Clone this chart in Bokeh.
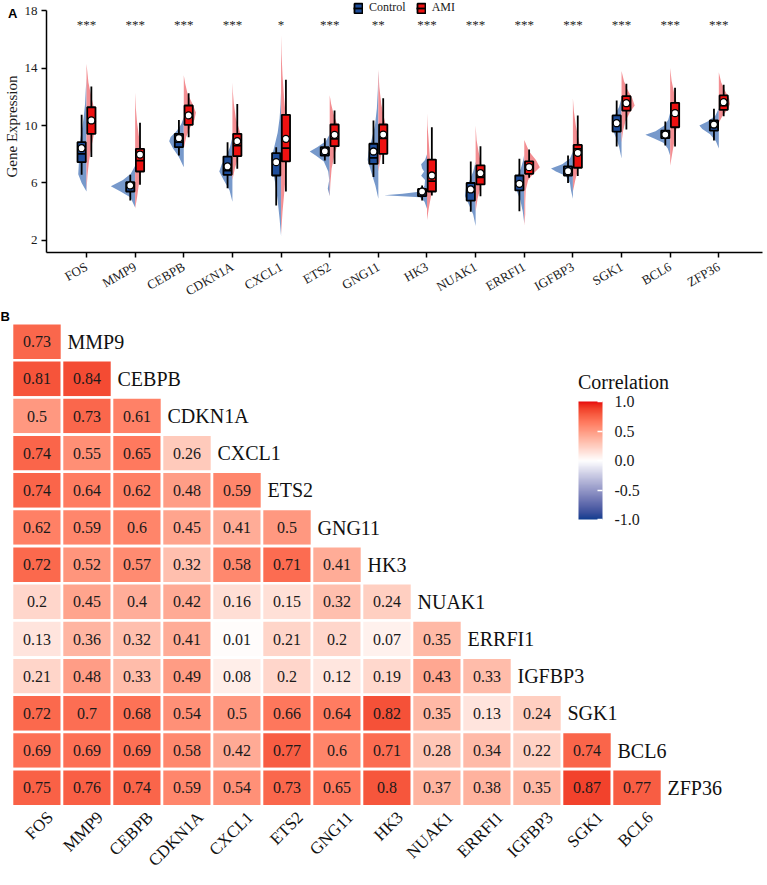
import math
import numpy as np
from bokeh.plotting import figure
from bokeh.models import (FixedTicker, Legend, LegendItem, Label, LinearColorMapper,
                          ColorBar, PrintfTickFormatter, Range1d, ColumnDataSource, Div)
from bokeh.embed import file_html
from bokeh.resources import INLINE
from bokeh.core.properties import value

SERIF = "Liberation Serif"
SANS = "Liberation Sans"

# ---------------- data: panel A ----------------
genes = ["FOS", "MMP9", "CEBPB", "CDKN1A", "CXCL1", "ETS2", "GNG11", "HK3",
         "NUAK1", "ERRFI1", "IGFBP3", "SGK1", "BCL6", "ZFP36"]
sig = ["***", "***", "***", "***", "*", "***", "**", "***", "***", "***", "***", "***", "***", "***"]

# half-violin outlines (expression value, half width in category units)
ctrl_vy = [
    [5.4, 6.0, 6.6, 7.2, 8.0, 8.8, 9.6, 10.5, 11.5, 12.5, 13.3],
    [4.3, 5.0, 5.4, 5.78, 6.2, 6.64, 7.2],
    [7.1, 7.8, 8.4, 8.9, 9.2, 9.6, 10.1, 10.6],
    [4.7, 5.5, 6.2, 6.8, 7.3, 7.9, 8.5, 9.2],
    [2.3, 3.5, 4.8, 6.0, 7.0, 7.7, 8.5, 9.5, 10.5, 11.5, 12.4],
    [5.1, 5.6, 6.2, 6.8, 7.5, 7.9, 8.2, 8.5, 8.9, 9.4],
    [4.9, 5.8, 6.8, 7.6, 8.2, 9.0, 10.0, 11.2, 12.5, 13.8],
    [4.2, 4.7, 5.0, 5.15, 5.25, 5.4, 5.8, 6.2, 6.5, 6.8, 7.0, 7.3, 7.6, 8.0],
    [3.0, 3.8, 4.5, 5.1, 5.6, 6.2, 6.8, 7.5],
    [3.2, 4.0, 4.8, 5.4, 5.9, 6.4, 7.0, 7.6, 8.0],
    [4.9, 5.5, 6.0, 6.5, 6.8, 7.0, 7.3, 7.7, 8.2],
    [7.7, 8.5, 9.2, 9.8, 10.2, 10.7, 11.3, 11.9],
    [7.9, 8.4, 8.8, 9.1, 9.35, 9.6, 10.0, 10.4, 10.9],
    [8.4, 8.9, 9.4, 9.75, 10.0, 10.3, 10.7, 11.2],
]
ctrl_vw = [
    [0, 0.10, 0.17, 0.16, 0.15, 0.14, 0.10, 0.06, 0.03, 0.015, 0],
    [0, 0.10, 0.30, 0.50, 0.25, 0.09, 0],
    [0, 0.10, 0.22, 0.30, 0.27, 0.15, 0.05, 0],
    [0, 0.06, 0.18, 0.27, 0.22, 0.12, 0.05, 0],
    [0, 0.03, 0.07, 0.12, 0.18, 0.20, 0.14, 0.07, 0.03, 0.01, 0],
    [0, 0.04, 0.01, 0.03, 0.12, 0.28, 0.41, 0.25, 0.08, 0],
    [0, 0.06, 0.15, 0.22, 0.20, 0.14, 0.07, 0.03, 0.01, 0],
    [0, 0.05, 0.15, 0.88, 0.50, 0.12, 0.05, 0.04, 0.12, 0.06, 0.10, 0.12, 0.04, 0],
    [0, 0.05, 0.14, 0.22, 0.20, 0.12, 0.05, 0],
    [0, 0.03, 0.08, 0.15, 0.19, 0.15, 0.07, 0.02, 0],
    [0, 0.04, 0.06, 0.15, 0.35, 0.45, 0.22, 0.06, 0],
    [0, 0.05, 0.12, 0.19, 0.20, 0.14, 0.05, 0],
    [0, 0.05, 0.14, 0.33, 0.51, 0.30, 0.12, 0.04, 0],
    [0, 0.06, 0.18, 0.34, 0.40, 0.22, 0.07, 0],
]
ami_vy = [
    [5.5, 6.5, 7.5, 8.5, 9.5, 10.3, 11.0, 12.0, 13.0, 14.3],
    [4.2, 5.0, 6.0, 7.0, 7.6, 8.3, 9.2, 10.2, 11.2, 12.3],
    [8.4, 9.2, 9.8, 10.4, 10.9, 11.5, 12.2, 12.9, 13.5],
    [6.2, 7.0, 7.8, 8.5, 9.0, 9.6, 10.5, 11.5, 12.3, 13.0],
    [2.4, 4.0, 5.5, 7.0, 8.3, 9.3, 10.5, 12.0, 13.5, 15.0, 16.3],
    [5.0, 6.0, 7.0, 8.0, 8.8, 9.4, 10.0, 10.8, 11.5, 12.1],
    [6.8, 7.8, 8.6, 9.3, 9.8, 10.5, 11.5, 12.7, 13.9],
    [3.4, 4.3, 5.2, 5.8, 6.5, 7.3, 8.2, 9.2, 10.0, 10.9],
    [4.0, 4.9, 5.7, 6.3, 6.8, 7.4, 8.2, 9.0, 10.0],
    [3.0, 3.8, 4.6, 5.5, 6.2, 6.7, 7.1, 7.6, 8.2, 9.0],
    [5.4, 6.2, 7.0, 7.7, 8.2, 9.0, 10.0, 11.0, 11.9],
    [8.8, 9.6, 10.3, 10.9, 11.4, 11.9, 12.5, 13.1, 13.8],
    [7.2, 8.0, 9.0, 10.0, 10.8, 11.5, 12.3, 13.1, 14.0],
    [10.2, 10.7, 11.1, 11.5, 11.9, 12.4, 13.0, 13.7],
]
ami_vw = [
    [0, 0.02, 0.05, 0.10, 0.16, 0.20, 0.17, 0.10, 0.04, 0],
    [0, 0.04, 0.08, 0.13, 0.15, 0.13, 0.08, 0.04, 0.015, 0],
    [0, 0.05, 0.12, 0.22, 0.25, 0.18, 0.08, 0.03, 0],
    [0, 0.05, 0.12, 0.18, 0.20, 0.15, 0.07, 0.03, 0.01, 0],
    [0, 0.03, 0.07, 0.11, 0.14, 0.13, 0.10, 0.06, 0.03, 0.01, 0],
    [0, 0.015, 0.04, 0.10, 0.17, 0.20, 0.16, 0.08, 0.03, 0],
    [0, 0.05, 0.11, 0.16, 0.17, 0.12, 0.06, 0.02, 0],
    [0, 0.04, 0.09, 0.10, 0.09, 0.07, 0.05, 0.03, 0.01, 0],
    [0, 0.04, 0.10, 0.14, 0.15, 0.11, 0.06, 0.02, 0],
    [0, 0.02, 0.02, 0.03, 0.08, 0.20, 0.32, 0.24, 0.10, 0],
    [0, 0.05, 0.11, 0.16, 0.17, 0.12, 0.06, 0.02, 0],
    [0, 0.03, 0.08, 0.17, 0.27, 0.22, 0.12, 0.05, 0],
    [0, 0.04, 0.09, 0.14, 0.17, 0.14, 0.08, 0.03, 0],
    [0, 0.08, 0.18, 0.23, 0.21, 0.13, 0.05, 0],
]

ctrl_lo   = [6.57, 4.78, 7.91, 5.64, 4.43, 7.57, 6.41, 4.78, 4.00, 4.04, 6.00, 8.54, 8.61, 8.96]
ctrl_q1   = [7.45, 5.41, 8.49, 6.57, 6.52, 7.91, 7.33, 5.08, 4.78, 5.48, 6.52, 9.58, 9.12, 9.65]
ctrl_med  = [8.03, 5.70, 8.84, 6.87, 7.45, 8.20, 7.75, 5.40, 5.40, 5.90, 6.80, 10.10, 9.35, 9.88]
ctrl_q3   = [8.84, 6.06, 9.42, 7.84, 8.08, 8.49, 8.73, 5.59, 6.00, 6.52, 7.15, 10.70, 9.65, 10.35]
ctrl_hi   = [10.74, 6.57, 10.39, 8.84, 8.49, 9.12, 10.35, 5.83, 7.50, 7.68, 7.91, 11.74, 10.28, 11.16]
ctrl_mean = [8.42, 5.83, 9.12, 7.15, 7.45, 8.21, 8.19, 5.41, 5.55, 5.94, 6.82, 10.16, 9.37, 10.07]

ami_lo   = [7.80, 5.87, 9.19, 6.99, 5.41, 7.33, 7.33, 5.13, 5.08, 6.36, 6.48, 9.72, 8.54, 10.65]
ami_q1   = [9.42, 6.80, 10.05, 7.87, 7.50, 8.56, 8.03, 5.41, 5.90, 6.64, 7.06, 11.04, 9.88, 11.09]
ami_med  = [10.20, 7.56, 10.70, 8.60, 8.42, 9.07, 9.10, 6.13, 6.40, 7.20, 8.38, 11.40, 10.70, 11.39]
ami_q3   = [11.27, 8.38, 11.39, 9.42, 10.74, 10.07, 10.07, 7.63, 7.22, 7.50, 8.65, 12.04, 11.58, 12.09]
ami_hi   = [12.71, 10.19, 12.25, 11.50, 13.18, 11.04, 11.90, 9.88, 8.56, 8.33, 10.70, 12.90, 12.62, 12.83]
ami_mean = [10.35, 7.98, 10.70, 8.91, 9.07, 9.35, 9.37, 6.52, 6.68, 7.10, 8.10, 11.55, 10.86, 11.62]

y_ticks = [2, 6, 10, 14, 18]

# ---------------- data: panel B ----------------
corr_rows = [
    [0.73],
    [0.81, 0.84],
    [0.5, 0.73, 0.61],
    [0.74, 0.55, 0.65, 0.26],
    [0.74, 0.64, 0.62, 0.48, 0.59],
    [0.62, 0.59, 0.6, 0.45, 0.41, 0.5],
    [0.72, 0.52, 0.57, 0.32, 0.58, 0.71, 0.41],
    [0.2, 0.45, 0.4, 0.42, 0.16, 0.15, 0.32, 0.24],
    [0.13, 0.36, 0.32, 0.41, 0.01, 0.21, 0.2, 0.07, 0.35],
    [0.21, 0.48, 0.33, 0.49, 0.08, 0.2, 0.12, 0.19, 0.43, 0.33],
    [0.72, 0.7, 0.68, 0.54, 0.5, 0.66, 0.64, 0.82, 0.35, 0.13, 0.24],
    [0.69, 0.69, 0.69, 0.58, 0.42, 0.77, 0.6, 0.71, 0.28, 0.34, 0.22, 0.74],
    [0.75, 0.76, 0.74, 0.59, 0.54, 0.73, 0.65, 0.8, 0.37, 0.38, 0.35, 0.87, 0.77],
]
cbar_ticks = [-1.0, -0.5, 0.0, 0.5, 1.0]

# ---------------- colours ----------------
C_VIO = "#7799CB"
A_VIO = "#F38E92"
C_BOX = "#1F4E9B"
A_BOX = "#EE1111"
LOW, MID, HIGH = "#0A3D8F", "#FFFFFF", "#E8000B"


def _hex2rgb(h):
    h = h.lstrip('#')
    return [int(h[i:i + 2], 16) / 255 for i in (0, 2, 4)]


def _lin(c):
    return c / 12.92 if c <= 0.04045 else ((c + 0.055) / 1.055) ** 2.4


def _gam(c):
    c = max(0.0, min(1.0, c))
    return 12.92 * c if c <= 0.0031308 else 1.055 * c ** (1 / 2.4) - 0.055


XN, YN, ZN = 0.95047, 1.0, 1.08883


def _f(t):
    return t ** (1 / 3) if t > (6 / 29) ** 3 else t / (3 * (6 / 29) ** 2) + 4 / 29


def _finv(t):
    return t ** 3 if t > 6 / 29 else 3 * (6 / 29) ** 2 * (t - 4 / 29)


def hex2lab(h):
    r, g, b = [_lin(c) for c in _hex2rgb(h)]
    X = 0.4124 * r + 0.3576 * g + 0.1805 * b
    Y = 0.2126 * r + 0.7152 * g + 0.0722 * b
    Z = 0.0193 * r + 0.1192 * g + 0.9505 * b
    fx, fy, fz = _f(X / XN), _f(Y / YN), _f(Z / ZN)
    return (116 * fy - 16, 500 * (fx - fy), 200 * (fy - fz))


def lab2hex(L, a, b):
    fy = (L + 16) / 116
    fx = fy + a / 500
    fz = fy - b / 200
    X, Y, Z = XN * _finv(fx), YN * _finv(fy), ZN * _finv(fz)
    r = 3.2406 * X - 1.5372 * Y - 0.4986 * Z
    g = -0.9689 * X + 1.8758 * Y + 0.0415 * Z
    bb = 0.0557 * X - 0.2040 * Y + 1.0570 * Z
    return "#%02x%02x%02x" % tuple(int(round(_gam(c) * 255)) for c in (r, g, bb))


def lab_ramp(c0, c1, n):
    l0, l1 = hex2lab(c0), hex2lab(c1)
    return [lab2hex(*[l0[k] + (l1[k] - l0[k]) * t for k in range(3)]) for t in np.linspace(0, 1, n)]


palette = lab_ramp(LOW, MID, 128) + lab_ramp(MID, HIGH, 129)[1:]

# ---------------- panel A ----------------
xs = np.arange(1, len(genes) + 1)
PXU = 48.64           # pixels per category
FW_A, FH_A = 716, 252
XA0 = 1 - 40 / PXU
XA1 = XA0 + FW_A / PXU
YA0, YA1 = 1.165, 18.696

pA = figure(frame_width=FW_A, frame_height=FH_A, x_range=Range1d(XA0, XA1),
            y_range=Range1d(YA0, YA1), output_backend="svg", toolbar_location=None,
            min_border_left=42, min_border_right=1, min_border_top=0, min_border_bottom=52)
pA.outline_line_color = None
pA.xgrid.visible = False
pA.ygrid.visible = False
pA.background_fill_color = "white"

c_xs = [list(cx - np.array(w)) for cx, w in zip(xs, ctrl_vw)]
a_xs = [list(cx + np.array(w)) for cx, w in zip(xs, ami_vw)]
pA.patches(xs=c_xs, ys=ctrl_vy, fill_color=C_VIO, line_color=None)
pA.patches(xs=a_xs, ys=ami_vy, fill_color=A_VIO, line_color=None)

off, bw = 0.1, 0.17
cx_box = xs - off
ax_box = xs + off
LW = 1.8
pA.segment(x0=cx_box, y0=ctrl_lo, x1=cx_box, y1=ctrl_hi, line_color="black", line_width=LW)
pA.segment(x0=ax_box, y0=ami_lo, x1=ax_box, y1=ami_hi, line_color="black", line_width=LW)
box_c = pA.vbar(x=cx_box, width=bw, bottom=ctrl_q1, top=ctrl_q3, fill_color=C_BOX,
                line_color="black", line_width=LW)
box_a = pA.vbar(x=ax_box, width=bw, bottom=ami_q1, top=ami_q3, fill_color=A_BOX,
                line_color="black", line_width=LW)
med_c = pA.segment(x0=cx_box - bw / 2, y0=ctrl_med, x1=cx_box + bw / 2, y1=ctrl_med,
                   line_color="black", line_width=LW)
med_a = pA.segment(x0=ax_box - bw / 2, y0=ami_med, x1=ax_box + bw / 2, y1=ami_med,
                   line_color="black", line_width=LW)
pA.scatter(x=cx_box, y=ctrl_mean, size=7, fill_color="white", line_color="black", line_width=1.3)
pA.scatter(x=ax_box, y=ami_mean, size=7, fill_color="white", line_color="black", line_width=1.3)

star_y = 17.05
pA.text(x=xs, y=[star_y] * len(xs), text=sig, text_align="center", text_baseline="middle",
        text_font=value(SERIF), text_font_size="13px", text_color="#222222")

for ax in (pA.xaxis, pA.yaxis):
    ax.axis_line_color = "black"
    ax.axis_line_width = 1.5
    ax.major_tick_line_color = "black"
    ax.major_tick_line_width = 1.5
    ax.major_tick_out = 5
    ax.major_tick_in = 0
    ax.minor_tick_line_color = None
    ax.major_label_text_font = SERIF
    ax.major_label_text_font_size = "13px"
    ax.major_label_text_color = "#1a1a1a"

pA.yaxis.ticker = FixedTicker(ticks=y_ticks)
pA.yaxis.bounds = (YA0, 18)
pA.yaxis.major_label_standoff = 4
pA.yaxis.axis_label = "Gene Expression"
pA.yaxis.axis_label_text_font = SERIF
pA.yaxis.axis_label_text_font_size = "15px"
pA.yaxis.axis_label_text_font_style = "normal"
pA.yaxis.axis_label_text_color = "#1a1a1a"
pA.yaxis.axis_label_standoff = 2

pA.xaxis.ticker = FixedTicker(ticks=list(xs))
pA.xaxis.major_label_overrides = {int(i): g for i, g in zip(xs, genes)}
pA.xaxis.major_label_orientation = math.pi / 6
pA.xaxis.major_label_standoff = 8

legend = Legend(items=[LegendItem(label="Control", renderers=[box_c, med_c]),
                       LegendItem(label="AMI", renderers=[box_a, med_a])],
                location="top_center", orientation="horizontal",
                glyph_width=10, glyph_height=12, label_standoff=6, spacing=10,
                padding=1, margin=0, border_line_color=None, background_fill_alpha=0,
                label_text_font=SERIF, label_text_font_size="12px", label_text_color="#1a1a1a",
                label_height=12)
pA.add_layout(legend)

# ---------------- panel B ----------------
FW_B, FH_B = 759, 565
PXB_X, PXB_Y = 50.0, 37.17
XB0 = -0.73
XB1 = XB0 + FW_B / PXB_X
YB_TOP = -0.92
YB_BOT = YB_TOP + FH_B / PXB_Y

pB = figure(frame_width=FW_B, frame_height=FH_B, x_range=Range1d(XB0, XB1),
            y_range=Range1d(YB_BOT, YB_TOP), output_backend="svg", toolbar_location=None,
            min_border=0, x_axis_location=None, y_axis_location=None)
pB.outline_line_color = None
pB.xgrid.visible = False
pB.ygrid.visible = False

cx, cy, cv, ct = [], [], [], []
for r, row in enumerate(corr_rows):
    for j, v in enumerate(row):
        cx.append(j)
        cy.append(r)
        cv.append(v)
        ct.append(str(round(v, 2)))
src = ColumnDataSource(dict(x=cx, y=cy, v=cv, t=ct))
mapper = LinearColorMapper(palette=palette, low=-1, high=1)
pB.rect(x="x", y="y", width=1, height=1, source=src,
        fill_color={"field": "v", "transform": mapper}, line_color="white", line_width=2.6)
pB.text(x="x", y="y", text="t", source=src, text_align="center", text_baseline="middle",
        text_font=value(SERIF), text_font_size="16px", text_color="#1a1a1a")

rows_idx = np.arange(len(corr_rows))
pB.text(x=rows_idx + 0.61, y=rows_idx, text=genes[1:], text_align="left", text_baseline="middle",
        text_font=value(SERIF), text_font_size="20px", text_color="#111111")
cols_idx = np.arange(len(corr_rows))
pB.text(x=cols_idx + 0.13, y=[len(corr_rows) - 0.46] * len(cols_idx), text=genes[:-1],
        angle=math.pi / 4, text_align="right", text_baseline="top",
        text_font=value(SERIF), text_font_size="17px", text_color="#111111")

pB.add_layout(Label(x=XB0, y=-0.678, text="B", text_align="left", text_baseline="middle",
                    text_font=SANS, text_font_style="bold", text_font_size="13px",
                    text_color="black"))
pB.add_layout(Label(x=10.82, y=1.09, text="Correlation", text_align="left", text_baseline="middle",
                    text_font=SERIF, text_font_size="20px", text_color="#111111"))

cb = ColorBar(color_mapper=mapper, location=(578, 357 - 4), width=24, height=118, padding=0,
              ticker=FixedTicker(ticks=cbar_ticks), formatter=PrintfTickFormatter(format="%.1f"),
              title=None,
              major_label_text_font=SERIF, major_label_text_font_size="16px",
              major_label_text_color="#1a1a1a", label_standoff=12,
              major_tick_line_color="white", major_tick_in=5, major_tick_out=0,
              major_tick_line_width=1.5, minor_tick_line_color=None,
              bar_line_color=None, border_line_color=None, background_fill_color=None)
pB.add_layout(cb)

# panel letter "A" sits in the page margin, outside any plot frame
divA = Div(text="A", width=12, height=14,
           styles={"position": "absolute", "left": "3px", "top": "2px",
                   "font-family": SANS, "font-weight": "bold", "font-size": "13px",
                   "color": "black", "line-height": "14px"})

open("out.html", "w").write(file_html([pA, pB, divA], INLINE))
